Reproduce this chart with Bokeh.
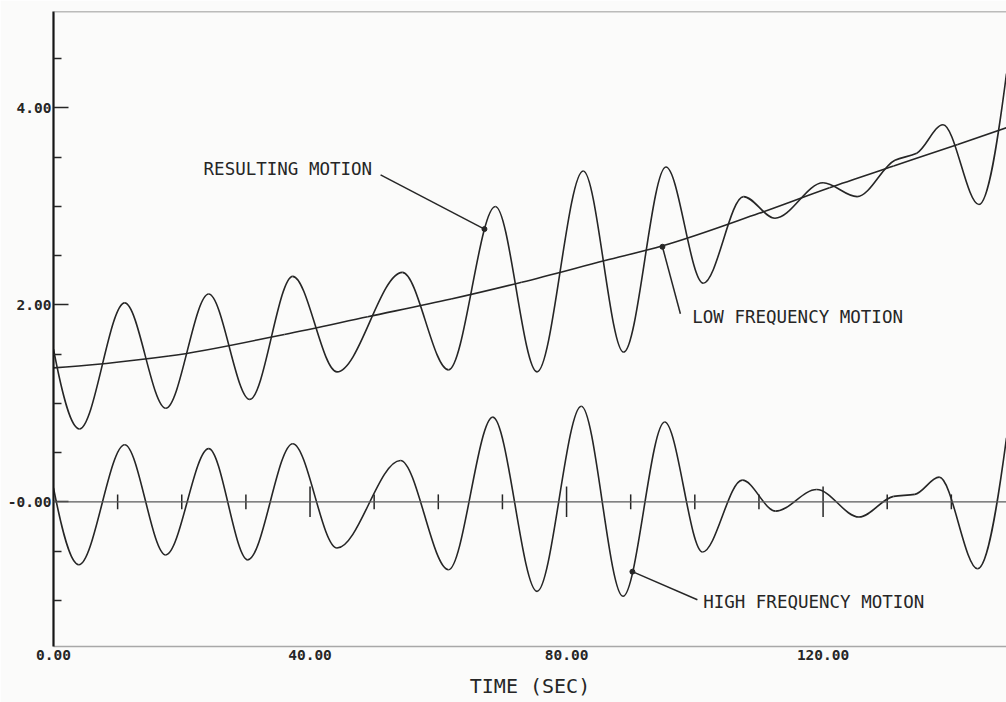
import numpy as np
from bokeh.plotting import figure
from bokeh.models import FixedTicker, Range1d, Span, ColumnDataSource
from bokeh.core.properties import value
from bokeh.embed import file_html
from bokeh.resources import INLINE

# ---- readings: time (s) and displacement -------------------------------
# high frequency component: turning points of the oscillation
high_t = [0.0, 3.95, 11.1, 17.5, 24.2, 30.3, 37.3, 44.2, 54.1, 61.6, 68.5,
          75.4, 82.3, 88.8, 95.3, 101.2, 107.4, 112.6, 119.0, 125.6, 131.0,
          134.3, 138.1, 144.1, 148.6]
high_v = [0.14, -0.64, 0.58, -0.54, 0.54, -0.59, 0.59, -0.47, 0.42, -0.69, 0.86,
          -0.91, 0.97, -0.96, 0.81, -0.51, 0.22, -0.095, 0.125, -0.155, 0.055,
          0.075, 0.25, -0.68, 0.65]

# resulting motion: turning points of the combined response
result_t = [0.0, 4.05, 11.1, 17.5, 24.2, 30.6, 37.3, 44.2, 54.4, 61.6, 68.9,
            75.4, 82.6, 88.9, 95.5, 101.3, 107.6, 112.5, 120.0, 125.3, 131.2,
            134.6, 138.7, 144.3, 148.6]
result_v = [1.55, 0.74, 2.02, 0.95, 2.11, 1.04, 2.29, 1.32, 2.33, 1.34, 3.00,
            1.32, 3.36, 1.52, 3.40, 2.22, 3.10, 2.88, 3.24, 3.10, 3.47,
            3.54, 3.83, 3.02, 4.35]

# low frequency component: slowly rising drift
low_t = [0.0, 18.0, 36.0, 49.0, 62.0, 73.0, 86.0, 95.0, 110.0, 121.0, 131.0, 141.0, 148.6]
low_v = [1.36, 1.48, 1.70, 1.88, 2.06, 2.23, 2.45, 2.60, 2.93, 3.19, 3.41, 3.63, 3.80]

# axes
x_ticks = [0, 40, 80, 120]
x_tick_labels = ["0.00", "40.00", "80.00", "120.00"]
y_ticks = [0, 2, 4]
y_tick_labels = ["-0.00", "2.00", "4.00"]
y_minor_ticks = [-1.0, -0.5, 0.5, 1.0, 1.5, 2.5, 3.0, 3.5, 4.5]
zero_minor_ticks = [10, 20, 30, 50, 60, 70, 90, 100, 110, 130, 140]
zero_major_ticks = [40, 80, 120]

# callouts: label, label position, leader start, leader end (dot on curve)
callout_text = ["RESULTING MOTION", "LOW FREQUENCY MOTION", "HIGH FREQUENCY MOTION"]
callout_text_t = [23.4, 99.6, 101.3]
callout_text_v = [3.38, 1.88, -1.015]
leader_t0 = [51.0, 97.75, 100.4]
leader_v0 = [3.32, 1.91, -0.995]
leader_t1 = [67.2, 94.95, 90.27]
leader_v1 = [2.77, 2.59, -0.71]

T_MIN, T_MAX = 0.0, 148.6
V_MIN, V_MAX = -1.47, 4.98

INK = "#262626"
MONO = "DejaVu Sans Mono"


def smooth_segments(xs, ys):
    """Monotone cubic (PCHIP) pieces through the points, as Bezier segments."""
    x = np.asarray(xs, float)
    y = np.asarray(ys, float)
    h = np.diff(x)
    d = np.diff(y) / h
    n = len(x)
    m = np.zeros(n)
    for i in range(1, n - 1):
        if d[i - 1] * d[i] > 0:
            w1 = 2 * h[i] + h[i - 1]
            w2 = h[i] + 2 * h[i - 1]
            m[i] = (w1 + w2) / (w1 / d[i - 1] + w2 / d[i])

    def end_slope(h0, h1, d0, d1):
        s = ((2 * h0 + h1) * d0 - h0 * d1) / (h0 + h1)
        if np.sign(s) != np.sign(d0):
            s = 0.0
        elif np.sign(d0) != np.sign(d1) and abs(s) > abs(3 * d0):
            s = 3 * d0
        return s

    m[0] = end_slope(h[0], h[1], d[0], d[1])
    m[-1] = end_slope(h[-1], h[-2], d[-1], d[-2])
    return ColumnDataSource(dict(
        x0=x[:-1], y0=y[:-1], x1=x[1:], y1=y[1:],
        cx0=x[:-1] + h / 3, cy0=y[:-1] + m[:-1] * h / 3,
        cx1=x[1:] - h / 3, cy1=y[1:] - m[1:] * h / 3,
    ))


p = figure(width=1006, height=702,
           x_range=Range1d(T_MIN, T_MAX), y_range=Range1d(V_MIN, V_MAX),
           output_backend="svg", toolbar_location=None,
           min_border_left=53, min_border_right=0,
           min_border_top=11, min_border_bottom=56)
p.background_fill_color = "#fbfbfa"
p.border_fill_color = "#fbfbfa"
p.outline_line_color = None
p.grid.visible = False

# left axis: labelled every 2, minor marks every 0.5, ticks pointing inward
ya = p.yaxis[0]
ya.ticker = FixedTicker(ticks=y_ticks, minor_ticks=y_minor_ticks)
ya.major_label_overrides = {t: s for t, s in zip(y_ticks, y_tick_labels)}
ya.axis_line_color = "#151515"
ya.axis_line_width = 2.2
ya.major_tick_in = 15
ya.major_tick_out = 0
ya.minor_tick_in = 8
ya.minor_tick_out = 0
ya.major_tick_line_color = INK
ya.minor_tick_line_color = INK
ya.major_tick_line_width = 1.5
ya.minor_tick_line_width = 1.5
ya.major_label_standoff = 2
ya.major_label_text_font = MONO
ya.major_label_text_font_size = "14.5px"
ya.major_label_text_font_style = "bold"
ya.major_label_text_color = INK

# bottom axis: labels only
xa = p.xaxis[0]
xa.ticker = FixedTicker(ticks=x_ticks, minor_ticks=[])
xa.major_label_overrides = {t: s for t, s in zip(x_ticks, x_tick_labels)}
xa.axis_line_color = "#a8a8a8"
xa.axis_line_width = 1.5
xa.major_tick_in = 0
xa.major_tick_out = 0
xa.minor_tick_in = 0
xa.minor_tick_out = 0
xa.major_label_standoff = 3
xa.major_label_text_font = MONO
xa.major_label_text_font_size = "14.5px"
xa.major_label_text_font_style = "bold"
xa.major_label_text_color = INK
xa.axis_label = "TIME (SEC)"
xa.axis_label_text_font = MONO
xa.axis_label_text_font_size = "20px"
xa.axis_label_text_font_style = "normal"
xa.axis_label_text_color = INK
xa.axis_label_standoff = 11

# top frame edge
p.add_layout(Span(location=V_MAX, dimension="width", line_color="#7a7a7a", line_width=1.5))

# time base through zero with marks every 10 s
p.add_layout(Span(location=0, dimension="width", line_color="#5a5a5a", line_width=1.3))
MINOR_HALF, MAJOR_HALF = 0.075, 0.155
p.segment(x0=zero_minor_ticks, y0=[-MINOR_HALF] * len(zero_minor_ticks),
          x1=zero_minor_ticks, y1=[MINOR_HALF] * len(zero_minor_ticks),
          line_color=INK, line_width=1.5)
p.segment(x0=zero_major_ticks, y0=[-MAJOR_HALF] * len(zero_major_ticks),
          x1=zero_major_ticks, y1=[MAJOR_HALF] * len(zero_major_ticks),
          line_color=INK, line_width=1.5)

# the three motions
for ts, vs in ((low_t, low_v), (result_t, result_v), (high_t, high_v)):
    p.bezier(x0="x0", y0="y0", x1="x1", y1="y1", cx0="cx0", cy0="cy0",
             cx1="cx1", cy1="cy1", source=smooth_segments(ts, vs),
             line_color=INK, line_width=1.6)

# callouts
p.segment(x0=leader_t0, y0=leader_v0, x1=leader_t1, y1=leader_v1,
          line_color=INK, line_width=1.5)
p.scatter(x=leader_t1, y=leader_v1, size=5, color=INK)
p.text(x=callout_text_t, y=callout_text_v, text=callout_text,
       text_font=value(MONO), text_font_size="17.5px",
       text_baseline="middle", text_align="left", text_color=INK)

open("out.html", "w").write(file_html(p, INLINE))
